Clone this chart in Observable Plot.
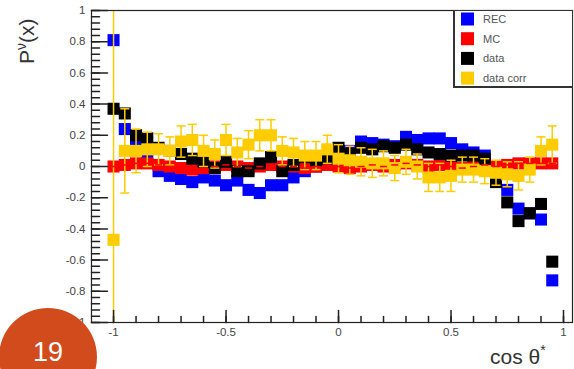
<!DOCTYPE html>
<html><head><meta charset="utf-8">
<script src="https://cdn.jsdelivr.net/npm/d3@7"></script>
<script src="https://cdn.jsdelivr.net/npm/@observablehq/plot@0.6"></script>
<style>html,body{margin:0;padding:0;background:#fff;overflow:hidden}svg{display:block}</style>
</head><body><div id="chart"></div>
<script>
const cosTheta = [-1,-0.95,-0.9,-0.85,-0.8,-0.75,-0.7,-0.65,-0.6,-0.55,-0.5,-0.45,-0.4,-0.35,-0.3,-0.25,-0.2,-0.15,-0.1,-0.05,0,0.05,0.1,0.15,0.2,0.25,0.3,0.35,0.4,0.45,0.5,0.55,0.6,0.65,0.7,0.75,0.8,0.85,0.9,0.95];
const rec = [0.81,0.24,0.15,0.07,-0.03,-0.06,-0.08,-0.10,-0.07,-0.09,-0.12,-0.09,-0.15,-0.17,-0.12,-0.12,-0.07,-0.03,0.0,0.02,0.05,0.10,0.16,0.15,0.14,0.13,0.19,0.17,0.18,0.18,0.15,0.11,0.09,0.07,-0.05,-0.15,-0.27,-0.30,-0.34,-0.73];
const mc = [0.0,0.01,0.02,0.02,0.01,0.0,-0.01,-0.02,-0.01,0.0,0.01,0.0,-0.01,0.0,0.01,0.0,0.0,-0.01,0.0,0.01,0.0,-0.01,0.0,0.01,0.0,0.01,0.02,0.01,0.0,0.01,0.0,-0.01,0.0,0.01,0.0,0.01,0.02,0.02,0.02,0.02];
const dataVals = [0.37,0.34,0.20,0.18,0.12,0.10,0.08,0.05,0.03,-0.01,0.03,-0.03,-0.03,0.02,0.06,-0.03,0.01,0.06,0.04,0.05,0.12,0.08,0.12,0.11,0.13,0.12,0.14,0.11,0.09,0.08,0.07,0.07,0.07,0.05,-0.10,-0.23,-0.35,-0.30,-0.24,-0.61];
const dataCorr = [-0.47,0.10,0.10,0.11,0.11,0.10,0.16,0.17,0.10,0.08,0.17,0.09,0.14,0.20,0.20,0.10,0.09,0.07,0.07,0.11,0.05,0.04,0.03,0.02,0.02,-0.01,0.03,0.00,-0.07,-0.07,-0.06,-0.02,-0.02,-0.03,-0.04,-0.05,-0.06,-0.02,0.10,0.14];
const dataCorrErr = [1.6,0.27,0.14,0.11,0.10,0.09,0.10,0.10,0.10,0.09,0.10,0.09,0.09,0.10,0.10,0.09,0.09,0.09,0.09,0.09,0.09,0.09,0.09,0.09,0.08,0.08,0.08,0.08,0.09,0.09,0.10,0.08,0.08,0.08,0.08,0.08,0.09,0.08,0.09,0.12];
const seriesNames = ["REC","MC","data","data corr"];
const seriesColors = ["#0000ff","#ff0000","#000000","#ffcc00"];
const yTickValues = [-1,-0.8,-0.6,-0.4,-0.2,0,0.2,0.4,0.6,0.8,1];
const yTickLabels = ["-1","-0.8","-0.6","-0.4","-0.2","0","0.2","0.4","0.6","0.8","1"];
const xTickValues = [-1,-0.5,0,0.5,1];
const xTickLabels = ["-1","-0.5","0","0.5","1"];
const xLabel = "cos θ";
const yLabelMain = "P";
const yLabelSup = "ν";
const badge = "19";

const xDomain = [-1.098, 1.04];
const yDomain = [-1, 1];
const yMinor = d3.range(-1, 1.0001, 0.04).map(v => +v.toFixed(2));
const xMinor = d3.range(-1, 1.0001, 0.1).map(v => +v.toFixed(2));

const mk = (vals) => cosTheta.map((x, i) => ({x, y: vals[i]}));
const recD = mk(rec), mcD = mk(mc), dataD = mk(dataVals);
const corrD = cosTheta.map((x, i) => ({x, y: dataCorr[i], e: dataCorrErr[i]}));

const tickShape = {draw(ctx, l) { ctx.moveTo(0, 0); ctx.lineTo(0, -l); }};
const sq = 6.8;
const capHalf = 0.02;
const FONT = "'Liberation Sans', Arial, sans-serif";

const plot = Plot.plot({
  width: 574, height: 369,
  marginLeft: 91, marginRight: 2, marginTop: 10, marginBottom: 47,
  x: {domain: xDomain},
  y: {domain: yDomain},
  style: {fontFamily: FONT, fontSize: "11.5px", color: "#333", background: "#fff"},
  marks: [
    Plot.dot(recD, {x: "x", y: "y", symbol: "square", r: sq, fill: seriesColors[0]}),
    Plot.dot(mcD, {x: "x", y: "y", symbol: "square", r: sq, fill: seriesColors[1]}),
    Plot.dot(dataD, {x: "x", y: "y", symbol: "square", r: sq, fill: seriesColors[2]}),
    Plot.ruleX(corrD, {x: "x", y1: d => d.y - d.e, y2: d => d.y + d.e, stroke: seriesColors[3], strokeWidth: 1.5, clip: true}),
    Plot.link(corrD, {x1: d => d.x - capHalf, x2: d => d.x + capHalf, y1: d => d.y + d.e, y2: d => d.y + d.e, stroke: seriesColors[3], strokeWidth: 1.5, clip: true}),
    Plot.link(corrD, {x1: d => d.x - capHalf, x2: d => d.x + capHalf, y1: d => d.y - d.e, y2: d => d.y - d.e, stroke: seriesColors[3], strokeWidth: 1.5, clip: true}),
    Plot.dot(corrD, {x: "x", y: "y", symbol: "square", r: sq, fill: seriesColors[3]}),
    Plot.link(mcD, {x1: d => d.x - 0.016, x2: d => d.x + 0.016, y1: "y", y2: "y", stroke: seriesColors[1], strokeWidth: 1.5}),
    Plot.frame({stroke: "#222", strokeWidth: 1.2}),
    Plot.vector(yMinor, {x: xDomain[0], y: d => d, rotate: 90, length: 8, anchor: "start", shape: tickShape, stroke: "#222"}),
    Plot.vector(yTickValues, {x: xDomain[0], y: d => d, rotate: 90, length: 16, anchor: "start", shape: tickShape, stroke: "#222"}),
    Plot.vector(xMinor, {x: d => d, y: yDomain[0], rotate: 0, length: 6, anchor: "start", shape: tickShape, stroke: "#222"}),
    Plot.vector(xTickValues, {x: d => d, y: yDomain[0], rotate: 0, length: 12, anchor: "start", shape: tickShape, stroke: "#222"}),
    Plot.axisY({ticks: yTickValues, tickSize: 0, tickPadding: 6, tickFormat: d => yTickLabels[yTickValues.indexOf(d)], label: null, fill: "#444"}),
    Plot.axisX({ticks: xTickValues, tickSize: 0, tickPadding: 5, tickFormat: d => xTickLabels[xTickValues.indexOf(d)], label: null, fill: "#444"})
  ]
});
document.getElementById("chart").appendChild(plot);

const svg = d3.select(plot);
// y axis title
const yt = svg.append("text")
  .attr("transform", "translate(34,64) rotate(-90)")
  .attr("text-anchor", "start")
  .attr("font-size", 21).attr("fill", "#333")
  .attr("font-family", FONT);
yt.append("tspan").text(yLabelMain);
yt.append("tspan").attr("dy", -8).attr("font-size", 14).text(yLabelSup);
yt.append("tspan").attr("dy", 8).text("(x)");
// x axis title
const xt = svg.append("text")
  .attr("x", 490).attr("y", 364)
  .attr("text-anchor", "start")
  .attr("font-size", 21).attr("fill", "#333")
  .attr("font-family", FONT);
xt.append("tspan").text(xLabel);
xt.append("tspan").attr("dy", -9).attr("font-size", 14).text("*");
// legend
const lg = svg.append("g").attr("text-anchor", "start");
lg.append("rect").attr("x", 454.5).attr("y", 10.5).attr("width", 118).attr("height", 76)
  .attr("fill", "#fff").attr("stroke", "#333").attr("stroke-width", 1);
lg.append("line").attr("x1", 454).attr("x2", 573).attr("y1", 87.5).attr("y2", 87.5).attr("stroke", "#333").attr("stroke-width", 1);
lg.append("line").attr("x1", 453.5).attr("x2", 453.5).attr("y1", 10).attr("y2", 88).attr("stroke", "#333").attr("stroke-width", 1);
seriesNames.forEach((name, i) => {
  const cy = 19 + i * 19.7;
  lg.append("rect").attr("x", 461).attr("y", cy - 6.5).attr("width", 13).attr("height", 13).attr("fill", seriesColors[i]);
  lg.append("text").attr("x", 483).attr("y", cy + 4).attr("font-size", 11).attr("fill", "#555")
    .attr("font-family", FONT).text(name);
});
// page badge
svg.append("circle").attr("cx", 48).attr("cy", 357).attr("r", 49).attr("fill", "#d14b1c");
svg.append("text").attr("x", 48).attr("y", 361).attr("text-anchor", "middle")
  .attr("font-size", 27).attr("fill", "#fff")
  .attr("font-family", FONT).text(badge);
</script></body></html>
